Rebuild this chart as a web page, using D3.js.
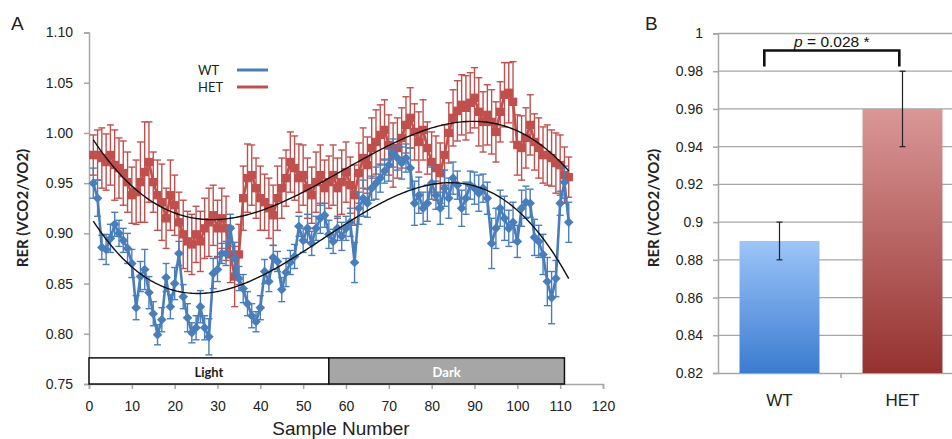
<!DOCTYPE html>
<html>
<head>
<meta charset="utf-8">
<script src="https://cdn.jsdelivr.net/npm/d3@7"></script>
<style>
  body { margin: 0; background: #fff; }
  svg { display: block; font-family: Lato, "Open Sans", sans-serif; }
</style>
</head>
<body>
<svg width="952" height="439"></svg>
<script>
// ---- data ----
var wtRer = [0.950,0.935,0.886,0.884,0.895,0.909,0.900,0.893,0.885,0.870,
  0.826,0.857,0.864,0.841,0.820,0.799,0.814,0.856,0.827,0.850,
  0.880,0.837,0.816,0.801,0.806,0.827,0.806,0.797,0.860,0.864,
  0.880,0.880,0.905,0.875,0.855,0.845,0.830,0.818,0.812,0.826,
  0.862,0.852,0.876,0.872,0.844,0.861,0.871,0.877,0.907,0.893,
  0.905,0.890,0.905,0.915,0.918,0.899,0.892,0.905,0.897,0.905,
  0.911,0.871,0.925,0.935,0.930,0.945,0.950,0.955,0.962,0.968,
  0.980,0.975,0.970,0.975,0.965,0.930,0.938,0.925,0.930,0.950,
  0.938,0.925,0.945,0.935,0.955,0.948,0.925,0.935,0.948,0.945,
  0.940,0.945,0.935,0.890,0.905,0.925,0.915,0.905,0.911,0.892,
  0.925,0.931,0.930,0.896,0.892,0.879,0.852,0.836,0.855,0.930,
  0.951,0.911];
var wtErr = [0.015,0.018,0.012,0.015,0.014,0.012,0.013,0.012,0.015,0.014,
  0.012,0.015,0.020,0.016,0.012,0.010,0.012,0.014,0.012,0.016,
  0.012,0.012,0.014,0.010,0.012,0.016,0.012,0.018,0.015,0.012,
  0.010,0.012,0.014,0.016,0.012,0.014,0.012,0.012,0.010,0.012,
  0.012,0.010,0.012,0.010,0.012,0.014,0.012,0.012,0.010,0.012,
  0.014,0.012,0.012,0.015,0.012,0.014,0.012,0.012,0.014,0.012,
  0.014,0.020,0.016,0.018,0.014,0.012,0.016,0.014,0.012,0.016,
  0.014,0.012,0.016,0.014,0.020,0.022,0.018,0.016,0.018,0.016,
  0.014,0.016,0.018,0.020,0.016,0.014,0.018,0.016,0.014,0.016,
  0.018,0.014,0.016,0.025,0.020,0.018,0.022,0.018,0.020,0.016,
  0.018,0.016,0.014,0.018,0.016,0.020,0.024,0.026,0.018,0.012,
  0.016,0.020];
var hetRer = [0.978,0.978,0.975,0.971,0.978,0.968,0.965,0.960,0.951,0.938,
  0.941,0.951,0.961,0.971,0.951,0.938,0.931,0.915,0.938,0.928,
  0.911,0.899,0.892,0.889,0.899,0.892,0.905,0.911,0.918,0.905,
  0.915,0.905,0.879,0.857,0.879,0.935,0.955,0.958,0.945,0.935,
  0.931,0.925,0.918,0.935,0.945,0.955,0.971,0.965,0.955,0.958,
  0.945,0.938,0.951,0.958,0.945,0.951,0.958,0.945,0.951,0.961,
  0.948,0.938,0.960,0.975,0.968,0.985,0.991,0.998,1.003,0.988,
  0.978,0.985,0.995,1.008,1.015,1.001,0.991,1.003,0.985,0.971,
  0.965,0.960,0.978,1.000,1.015,1.022,1.028,1.025,1.030,1.035,
  1.021,1.011,1.018,1.011,1.001,1.021,1.038,1.040,1.031,0.988,
  0.985,0.995,1.008,0.991,0.985,0.978,0.978,0.975,0.970,0.968,
  0.958,0.956];
var hetErr = [0.020,0.025,0.030,0.028,0.030,0.035,0.030,0.032,0.030,0.028,
  0.032,0.040,0.050,0.040,0.030,0.035,0.038,0.030,0.035,0.030,
  0.030,0.034,0.030,0.030,0.028,0.030,0.030,0.034,0.030,0.028,
  0.030,0.032,0.028,0.030,0.030,0.032,0.034,0.030,0.030,0.032,
  0.028,0.030,0.030,0.032,0.030,0.028,0.030,0.032,0.034,0.030,
  0.030,0.028,0.030,0.030,0.028,0.026,0.030,0.030,0.032,0.030,
  0.028,0.030,0.030,0.030,0.028,0.030,0.032,0.030,0.030,0.030,
  0.032,0.030,0.030,0.028,0.030,0.028,0.030,0.030,0.026,0.030,
  0.032,0.030,0.030,0.030,0.028,0.030,0.030,0.032,0.030,0.030,
  0.034,0.030,0.030,0.032,0.030,0.030,0.032,0.030,0.040,0.030,
  0.032,0.030,0.030,0.028,0.030,0.028,0.030,0.028,0.030,0.030,
  0.028,0.020];
var xTicksA = [0,10,20,30,40,50,60,70,80,90,100,110,120];
var yTicksA = [0.75,0.80,0.85,0.90,0.95,1.00,1.05,1.10];
var phases = [{name: "Light", from: 0, to: 56}, {name: "Dark", from: 56, to: 111}];

var groups = ["WT", "HET"];
var meanRer = [0.89, 0.96];
var semRer = [0.01, 0.02];
var yTicksB = [0.82,0.84,0.86,0.88,0.90,0.92,0.94,0.96,0.98,1.00];
var pLabel = "0.028 *";

var blue = "#4a7ebb", red = "#c0504d", axisGrey = "#a6a6a6";
var svg = d3.select("svg");

// ---- panel A ----
var xA = d3.scaleLinear().domain([0, 120]).range([89, 603]);
var yA = d3.scaleLinear().domain([0.75, 1.10]).range([384, 32.5]);

function styleAxis(g) {
  g.select(".domain").attr("stroke", axisGrey).attr("stroke-width", 1.5);
  g.selectAll(".tick line").attr("stroke", axisGrey).attr("stroke-width", 1.5);
  g.selectAll(".tick text").attr("fill", "#222").style("font-size", "14px");
}

svg.append("g").attr("transform", "translate(89,0)")
  .call(d3.axisLeft(yA).tickValues(yTicksA).tickFormat(d3.format(".2f")).tickSizeOuter(0).tickSize(5).tickPadding(11))
  .call(styleAxis);
svg.append("g").attr("transform", "translate(0,384)")
  .call(d3.axisBottom(xA).tickValues(xTicksA).tickSizeOuter(0).tickSize(5).tickPadding(12))
  .call(styleAxis);

// light / dark bar
var boxTop = yA(0.776);
svg.selectAll(".phase").data(phases).enter().append("rect")
  .attr("x", function(d) { return xA(d.from); })
  .attr("y", boxTop)
  .attr("width", function(d) { return xA(d.to) - xA(d.from); })
  .attr("height", yA(0.75) - boxTop)
  .attr("fill", function(d) { return d.name == "Dark" ? "#a6a6a6" : "#fff"; })
  .attr("stroke", "#111").attr("stroke-width", 1.5);
svg.selectAll(".phaseLabel").data(phases).enter().append("text")
  .attr("x", function(d) { return (xA(d.from) + xA(d.to)) / 2; })
  .attr("y", boxTop + 19)
  .attr("text-anchor", "middle")
  .style("font-size", "13px").style("font-weight", "bold")
  .attr("fill", function(d) { return d.name == "Dark" ? "#fff" : "#222"; })
  .text(function(d) { return d.name; });

function series(values, errs, color, shape) {
  var pts = values.map(function(v, i) { return {x: i + 1, v: v, e: errs[i]}; });
  var g = svg.append("g");
  var eb = g.selectAll(".eb").data(pts).enter().append("g")
    .attr("stroke", color).attr("stroke-width", 1.4);
  eb.append("line")
    .attr("x1", function(d) { return xA(d.x); }).attr("x2", function(d) { return xA(d.x); })
    .attr("y1", function(d) { return yA(d.v - d.e); }).attr("y2", function(d) { return yA(d.v + d.e); });
  [-1, 1].forEach(function(s) {
    eb.append("line")
      .attr("x1", function(d) { return xA(d.x) - 3.5; }).attr("x2", function(d) { return xA(d.x) + 3.5; })
      .attr("y1", function(d) { return yA(d.v + s * d.e); }).attr("y2", function(d) { return yA(d.v + s * d.e); });
  });
  g.append("path").datum(pts)
    .attr("fill", "none").attr("stroke", color).attr("stroke-width", 2.6)
    .attr("d", d3.line().x(function(d) { return xA(d.x); }).y(function(d) { return yA(d.v); }));
  g.selectAll(".mk").data(pts).enter().append("path")
    .attr("transform", function(d) { return "translate(" + xA(d.x) + "," + yA(d.v) + ")"; })
    .attr("fill", color)
    .attr("d", shape == "diamond" ? "M0,-4.8L4.8,0L0,4.8L-4.8,0Z" : "M-4.2,-4.2H4.2V4.2H-4.2Z");
  return pts;
}

// least squares polynomial, like the spreadsheet trendline
function polyfit(pts, deg) {
  var c = 56.5, s = 55.5, n = deg + 1;
  var A = [], b = [];
  for (var i = 0; i < n; i++) { A.push(new Array(n).fill(0)); b.push(0); }
  pts.forEach(function(p) {
    var t = (p.x - c) / s;
    for (var i = 0; i < n; i++) {
      b[i] += p.v * Math.pow(t, i);
      for (var j = 0; j < n; j++) A[i][j] += Math.pow(t, i + j);
    }
  });
  for (var k = 0; k < n; k++) {
    for (var r = k + 1; r < n; r++) {
      var f = A[r][k] / A[k][k];
      for (var j = k; j < n; j++) A[r][j] -= f * A[k][j];
      b[r] -= f * b[k];
    }
  }
  var coef = new Array(n).fill(0);
  for (var k = n - 1; k >= 0; k--) {
    var sum = b[k];
    for (var j = k + 1; j < n; j++) sum -= A[k][j] * coef[j];
    coef[k] = sum / A[k][k];
  }
  return function(x) {
    var t = (x - c) / s, y = 0;
    for (var i = 0; i < n; i++) y += coef[i] * Math.pow(t, i);
    return y;
  };
}

var hetPts = series(hetRer, hetErr, red, "square");
var wtPts = series(wtRer, wtErr, blue, "diamond");

[hetPts, wtPts].forEach(function(pts) {
  var fit = polyfit(pts, 3);
  svg.append("path").datum(d3.range(1, 112.01, 0.5))
    .attr("fill", "none").attr("stroke", "#111").attr("stroke-width", 1.4)
    .attr("d", d3.line().x(function(x) { return xA(x); }).y(function(x) { return yA(fit(x)); }));
});

// legend
var legend = svg.append("g");
[["WT", blue], ["HET", red]].forEach(function(d, i) {
  legend.append("text").attr("x", 198).attr("y", 75 + i * 17)
    .style("font-size", "13px").attr("fill", "#222").text(d[0]);
  legend.append("line").attr("x1", 237).attr("x2", 268)
    .attr("y1", 70 + i * 17).attr("y2", 70 + i * 17)
    .attr("stroke", d[1]).attr("stroke-width", 3);
});

svg.append("text").attr("transform", "translate(28,208) rotate(-90)")
  .attr("text-anchor", "middle").style("font-size", "15px").style("font-weight", "bold")
  .attr("fill", "#222").text("RER (VCO2/VO2)");
svg.append("text").attr("x", 341).attr("y", 435).attr("text-anchor", "middle")
  .style("font-family", "'Liberation Sans', Arial, sans-serif").style("font-size", "19px")
  .attr("fill", "#222").text("Sample Number");
svg.append("text").attr("x", 11).attr("y", 30)
  .style("font-family", "'Liberation Sans', Arial, sans-serif").style("font-size", "19px")
  .attr("fill", "#222").text("A");

// ---- panel B ----
var xB = d3.scaleBand().domain(groups).range([718, 964]).paddingInner(0.35).paddingOuter(0.175);
var yB = d3.scaleLinear().domain([0.82, 1]).range([373, 33.5]);

var defs = svg.append("defs");
[["gWT", "#9dc5f8", "#3b7bd0"], ["gHET", "#d99796", "#953230"]].forEach(function(g) {
  var lg = defs.append("linearGradient").attr("id", g[0]).attr("x1", 0).attr("x2", 0).attr("y1", 0).attr("y2", 1);
  lg.append("stop").attr("offset", "0%").attr("stop-color", g[1]);
  lg.append("stop").attr("offset", "100%").attr("stop-color", g[2]);
});

svg.append("g").selectAll("line").data(yTicksB.slice(1)).enter().append("line")
  .attr("x1", 718).attr("x2", 952)
  .attr("y1", function(d) { return yB(d); }).attr("y2", function(d) { return yB(d); })
  .attr("stroke", axisGrey).attr("stroke-width", 1.3);

svg.append("g").attr("transform", "translate(718,0)")
  .call(d3.axisLeft(yB).tickValues(yTicksB).tickFormat(function(d) { return String(+d.toFixed(2)); })
    .tickSizeOuter(0).tickSize(5).tickPadding(10))
  .call(styleAxis);
var xAxisB = svg.append("g").attr("transform", "translate(0,373)")
  .call(d3.axisBottom(xB).tickSize(0).tickPadding(21).tickSizeOuter(0))
  .call(styleAxis);
xAxisB.selectAll(".tick text").style("font-size", "17px");
svg.append("line").attr("x1", 841).attr("x2", 841).attr("y1", 373).attr("y2", 378)
  .attr("stroke", axisGrey).attr("stroke-width", 1.5);

var barData = groups.map(function(g, i) { return {g: g, v: meanRer[i], e: semRer[i]}; });
svg.selectAll(".bar").data(barData).enter().append("rect")
  .attr("x", function(d) { return xB(d.g); })
  .attr("y", function(d) { return yB(d.v); })
  .attr("width", xB.bandwidth())
  .attr("height", function(d) { return yB(0.82) - yB(d.v); })
  .attr("fill", function(d) { return "url(#g" + d.g + ")"; });

var ebB = svg.selectAll(".ebB").data(barData).enter().append("g")
  .attr("stroke", "#222").attr("stroke-width", 1.2);
ebB.append("line")
  .attr("x1", function(d) { return xB(d.g) + xB.bandwidth() / 2; })
  .attr("x2", function(d) { return xB(d.g) + xB.bandwidth() / 2; })
  .attr("y1", function(d) { return yB(d.v - d.e); })
  .attr("y2", function(d) { return yB(d.v + d.e); });
[-1, 1].forEach(function(s) {
  ebB.append("line")
    .attr("x1", function(d) { return xB(d.g) + xB.bandwidth() / 2 - 3; })
    .attr("x2", function(d) { return xB(d.g) + xB.bandwidth() / 2 + 3; })
    .attr("y1", function(d) { return yB(d.v + s * d.e); })
    .attr("y2", function(d) { return yB(d.v + s * d.e); });
});

// significance bracket
var bl = xB("WT") + xB.bandwidth() * 0.31, br = xB("HET") + xB.bandwidth() * 0.46;
svg.append("path")
  .attr("d", "M" + bl + "," + yB(0.9825) + "V" + yB(0.991) + "H" + br + "V" + yB(0.9825))
  .attr("fill", "none").attr("stroke", "#111").attr("stroke-width", 2.6);
var pt = svg.append("text").attr("x", (bl + br) / 2).attr("y", 47).attr("text-anchor", "middle")
  .style("font-family", "'Liberation Sans', Arial, sans-serif").style("font-size", "15.5px").attr("fill", "#111");
pt.append("tspan").style("font-style", "italic").text("p");
pt.append("tspan").text(" = " + pLabel);

svg.append("text").attr("transform", "translate(659,208) rotate(-90)")
  .attr("text-anchor", "middle").style("font-size", "15px").style("font-weight", "bold")
  .attr("fill", "#222").text("RER (VCO2/VO2)");
svg.append("text").attr("x", 645).attr("y", 30)
  .style("font-family", "'Liberation Sans', Arial, sans-serif").style("font-size", "19px")
  .attr("fill", "#222").text("B");
</script>
</body>
</html>
